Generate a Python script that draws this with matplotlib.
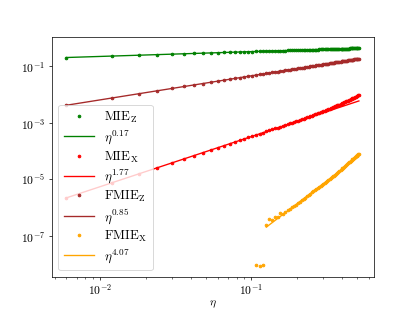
import matplotlib
matplotlib.use('Agg')
import matplotlib.pyplot as plt
from matplotlib.ticker import NullLocator

# eta grid (x axis)
eta = [0.006, 0.012, 0.018, 0.024, 0.030, 0.036, 0.042, 0.048, 0.054, 0.060,
       0.066, 0.072, 0.078, 0.084, 0.090, 0.096, 0.102, 0.108, 0.114, 0.120,
       0.126, 0.132, 0.138, 0.144, 0.150, 0.156, 0.162, 0.168, 0.174, 0.180,
       0.186, 0.192, 0.198, 0.204, 0.210, 0.216, 0.222, 0.228, 0.234, 0.240,
       0.246, 0.252, 0.258, 0.264, 0.270, 0.276, 0.282, 0.288, 0.294, 0.300,
       0.306, 0.312, 0.318, 0.324, 0.330, 0.336, 0.342, 0.348, 0.354, 0.360,
       0.366, 0.372, 0.378, 0.384, 0.390, 0.396, 0.402, 0.408, 0.414, 0.420,
       0.426, 0.432, 0.438, 0.444, 0.450, 0.456, 0.462, 0.468, 0.474, 0.480,
       0.486, 0.492, 0.498, 0.504, 0.510, 0.516]

mie_z = [0.204, 0.230, 0.246, 0.258, 0.268, 0.277, 0.284, 0.291, 0.296, 0.302,
         0.307, 0.311, 0.316, 0.320, 0.323, 0.327, 0.330, 0.334, 0.337, 0.340,
         0.342, 0.345, 0.348, 0.350, 0.353, 0.355, 0.357, 0.359, 0.362, 0.364,
         0.366, 0.368, 0.370, 0.372, 0.373, 0.375, 0.377, 0.379, 0.380, 0.382,
         0.384, 0.385, 0.387, 0.388, 0.390, 0.391, 0.393, 0.394, 0.395, 0.397,
         0.398, 0.399, 0.401, 0.402, 0.403, 0.404, 0.406, 0.407, 0.408, 0.409,
         0.410, 0.411, 0.412, 0.414, 0.415, 0.416, 0.417, 0.418, 0.419, 0.420,
         0.421, 0.422, 0.423, 0.424, 0.425, 0.426, 0.427, 0.428, 0.429, 0.430,
         0.430, 0.431, 0.432, 0.433, 0.434, 0.435]

mie_x = [2.24e-6, 7.64e-6, 1.566e-5, 2.605e-5, 3.868e-5, 5.342e-5, 7.016e-5, 8.886e-5, 1.094e-4, 1.320e-4,
         1.564e-4, 1.827e-4, 2.107e-4, 2.404e-4, 2.720e-4, 3.055e-4, 3.404e-4, 3.771e-4, 4.157e-4, 4.556e-4,
         4.977e-4, 5.410e-4, 5.865e-4, 6.336e-4, 6.824e-4, 7.331e-4, 7.858e-4, 8.408e-4, 8.960e-4, 9.545e-4,
         1.014e-3, 1.076e-3, 1.140e-3, 1.206e-3, 1.275e-3, 1.345e-3, 1.417e-3, 1.492e-3, 1.569e-3, 1.648e-3,
         1.730e-3, 1.813e-3, 1.900e-3, 1.987e-3, 2.079e-3, 2.174e-3, 2.272e-3, 2.370e-3, 2.475e-3, 2.581e-3,
         2.689e-3, 2.803e-3, 2.915e-3, 3.035e-3, 3.158e-3, 3.285e-3, 3.415e-3, 3.547e-3, 3.685e-3, 3.827e-3,
         3.972e-3, 4.124e-3, 4.280e-3, 4.443e-3, 4.604e-3, 4.777e-3, 4.956e-3, 5.133e-3, 5.321e-3, 5.518e-3,
         5.717e-3, 5.920e-3, 6.131e-3, 6.354e-3, 6.582e-3, 6.818e-3, 7.061e-3, 7.311e-3, 7.570e-3, 7.834e-3,
         8.109e-3, 8.390e-3, 8.693e-3, 8.997e-3, 9.313e-3, 9.646e-3]

fmie_z = [0.00420, 0.00757, 0.0107, 0.0137, 0.0165, 0.0193, 0.0220, 0.0246, 0.0272, 0.0297,
          0.0323, 0.0347, 0.0372, 0.0396, 0.0420, 0.0444, 0.0467, 0.0490, 0.0513, 0.0536,
          0.0559, 0.0581, 0.0604, 0.0626, 0.0648, 0.0670, 0.0692, 0.0714, 0.0735, 0.0757,
          0.0778, 0.0799, 0.0820, 0.0842, 0.0862, 0.0883, 0.0904, 0.0925, 0.0946, 0.0966,
          0.0986, 0.101, 0.103, 0.105, 0.107, 0.109, 0.111, 0.113, 0.115, 0.117,
          0.119, 0.121, 0.123, 0.125, 0.127, 0.129, 0.131, 0.133, 0.135, 0.136,
          0.138, 0.140, 0.142, 0.144, 0.146, 0.148, 0.150, 0.152, 0.154, 0.155,
          0.157, 0.159, 0.161, 0.163, 0.165, 0.167, 0.169, 0.170, 0.172, 0.174,
          0.176, 0.178, 0.180, 0.182, 0.183, 0.185]

# FMIE_X only exists from eta = 0.108 on (first three points are outliers)
fmie_x_eta = eta[17:]
fmie_x = [9.2e-9, 8.8e-9, 9.1e-9,
          2.55e-7, 4.10e-7, 3.80e-7, 4.70e-7, 4.75e-7, 6.30e-7, 6.25e-7, 7.15e-7, 8.10e-7, 9.15e-7,
          1.03e-6, 1.150e-6, 1.285e-6, 1.425e-6, 1.610e-6, 1.815e-6, 2.040e-6, 2.285e-6, 2.550e-6, 2.840e-6,
          3.148e-6, 3.483e-6, 3.846e-6, 4.236e-6, 4.656e-6, 5.093e-6, 5.546e-6, 6.039e-6, 6.561e-6, 7.112e-6,
          7.691e-6, 8.318e-6, 8.974e-6, 9.66e-6, 1.040e-5, 1.119e-5, 1.199e-5, 1.285e-5, 1.377e-5, 1.476e-5,
          1.574e-5, 1.690e-5, 1.824e-5, 1.972e-5, 2.123e-5, 2.286e-5, 2.460e-5, 2.642e-5, 2.838e-5, 3.048e-5,
          3.266e-5, 3.491e-5, 3.733e-5, 3.981e-5, 4.256e-5, 4.539e-5, 4.831e-5, 5.152e-5, 5.470e-5, 5.821e-5,
          6.180e-5, 6.561e-5, 6.950e-5, 7.379e-5, 7.798e-5, 8.260e-5]

# power law fits  y = c * eta**p
fit_exp = [0.17, 1.77, 0.85, 4.07]
fit_pref = [0.487, 0.0192, 0.325, 9.5e-4]

yticks = [1e-1, 1e-3, 1e-5, 1e-7]

plt.rcParams['mathtext.fontset'] = 'cm'
plt.rcParams['font.family'] = 'serif'
plt.rcParams['font.serif'] = ['cmr10']
plt.rcParams['axes.formatter.use_mathtext'] = True
plt.rcParams['font.size'] = 13

fig, ax = plt.subplots(figsize=(415/65, 311/65), dpi=65)

series = [
    (eta, mie_z, 'green', r'$\mathrm{MIE}_\mathrm{Z}$', eta),
    (eta, mie_x, 'red', r'$\mathrm{MIE}_\mathrm{X}$', eta),
    (eta, fmie_z, 'brown', r'$\mathrm{FMIE}_\mathrm{Z}$', eta),
    (fmie_x_eta, fmie_x, 'orange', r'$\mathrm{FMIE}_\mathrm{X}$', eta[20:]),
]

for i, (x, y, c, lab, xfit) in enumerate(series):
    ax.plot(x, y, '.', color=c, label=lab)
    yfit = [fit_pref[i] * e ** fit_exp[i] for e in xfit]
    ax.plot(xfit, yfit, '-', color=c, label=r'$\eta^{%.2f}$' % fit_exp[i])

ax.set_xscale('log')
ax.set_yscale('log')
ax.set_yticks(yticks)
ax.yaxis.set_minor_locator(NullLocator())
ax.tick_params(axis='x', which='major', pad=2)
ax.set_xlabel(r'$\eta$', labelpad=2)
ax.legend(loc='lower left', fontsize=14.5, handlelength=2.3, labelspacing=0.25)

fig.savefig('out.png', dpi=65)
